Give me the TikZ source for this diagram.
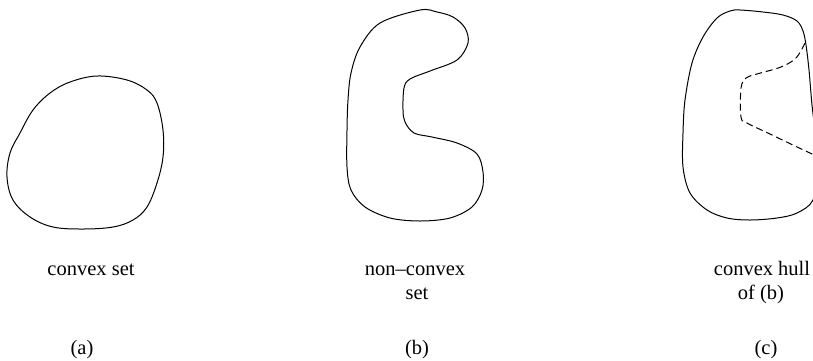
\documentclass[tikz,border=0pt]{standalone}
\usepackage{fontspec}
\setmainfont{Liberation Serif}
\begin{document}
\begin{tikzpicture}[x=1pt,y=-1pt,
  outline/.style={line width=1pt,line join=round},
  hull/.style={line width=1pt,dash pattern=on 7pt off 4pt},
  lbl/.style={anchor=base,inner sep=0pt,font=\fontsize{20.5}{24.5}\selectfont}]
\useasboundingbox (0,0) rectangle (813,360);
\begin{scope}
\clip (0,0) rectangle (813,360);
% (a) convex set
\draw[outline] plot[smooth cycle,tension=0.6] coordinates {
 (97,76) (127,80) (147,90) (157,103) (163,130) (163,157) (157,183) (147,207)
 (133,220) (113,227) (83,229) (53,227) (30,217) (13,200) (7,177) (10,153)
 (20,133) (33,110) (50,93) (70,82)};
% (b) non-convex set
\draw[outline] plot[smooth cycle,tension=0.55] coordinates {
 (420,10) (437,12) (453,17) (465,28) (468,43) (457,60) (430,71) (410,79)
 (404,88) (403,110) (405,122) (414,133) (432,137) (457,143) (477,154)
 (483,172) (482,190) (472,207) (450,218) (420,221) (390,218) (365,207)
 (351,190) (347,167) (347,130) (348,100) (351,73) (360,47) (380,23)};
% (c) convex hull
\draw[outline] plot[smooth cycle,tension=0.55] coordinates {
 (740,10) (763,12) (783,15) (797,21) (803,31) (806,45) (809,70) (812,105)
 (816,140) (817,170) (813,200) (797,213) (777,218) (750,220) (727,218)
 (707,210) (690,193) (683,167) (683,133) (685,100) (692,63) (703,37)
 (717,18) (730,11)};
\draw[hull] plot[smooth,tension=0.55] coordinates {
 (805,43) (796,58) (781,67) (757,74) (746,78) (741,88) (741,117)
 (747,123) (770,134) (795,146) (825,160)};
\end{scope}
% labels
\node[lbl] (ta) at (91,275) {convex set};
\node[lbl] (tb1) at (415,275) {non–convex};
\node[lbl] (tb2) at (417,299) {set};
\node[lbl] (tc1) at (762,275) {convex hull};
\node[lbl] (tc2) at (761,299) {of (b)};
\node[lbl] (la) at (82,354) {(a)};
\node[lbl] (lb) at (417,354) {(b)};
\node[lbl] (lc) at (766,354) {(c)};
\end{tikzpicture}
\end{document}
